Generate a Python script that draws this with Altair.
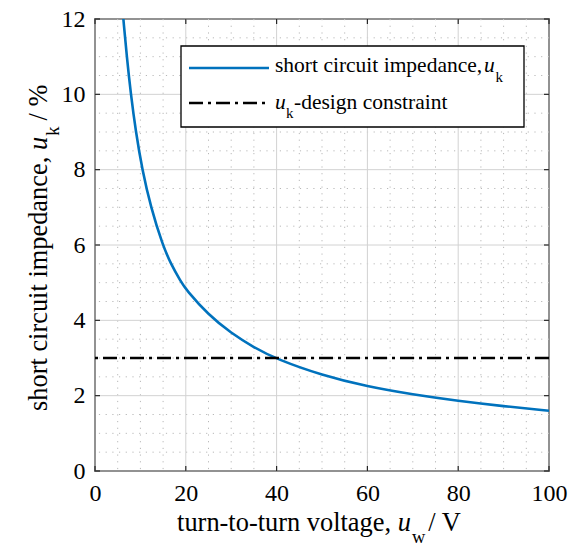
import altair as alt
import pandas as pd

# ---- data ----
uw = [6.25, 7.0, 7.9, 9.0, 10.4, 12.3, 14.9, 16.7, 18.9, 20, 25, 30, 35, 40, 50, 60, 70, 80, 90, 100]
uk = [12.0, 11.0, 10.0, 9.0, 8.0, 7.0, 6.0, 5.5, 5.03, 4.82, 4.14, 3.66, 3.28, 2.97, 2.54, 2.24, 2.03, 1.86, 1.72, 1.60]
uk_limit = [3.0]

x_major = [0, 20, 40, 60, 80, 100]
y_major = [0, 2, 4, 6, 8, 10, 12]
x_minor = [5, 10, 15, 25, 30, 35, 45, 50, 55, 65, 70, 75, 85, 90, 95]
y_minor = [0.5, 1, 1.5, 2.5, 3, 3.5, 4.5, 5, 5.5, 6.5, 7, 7.5, 8.5, 9, 9.5, 10.5, 11, 11.5]

legend_curve = "short circuit impedance,"
legend_limit = "-design constraint"
x_title = "turn-to-turn voltage, "
y_title = "short circuit impedance, "

W, H = 454, 452
FONT = "Liberation Serif"
FS_TICK = 24
FS_LAB = 26.4
FS_LEG = 21.5
SUB_LEG = 15
SUB_LAB = 18.5

xs = alt.Scale(domain=[0, 100], nice=False, zero=False)
ys = alt.Scale(domain=[0, 12], nice=False, zero=False)
xax = alt.Axis(values=x_major, title=None, labelFlush=False, labelOverlap=False)
yax = alt.Axis(values=y_major, title=None, labelFlush=False, labelOverlap=False)

curve_df = pd.DataFrame({"uw": uw, "uk": uk})
limit_df = pd.DataFrame({"uk": uk_limit})
one = pd.DataFrame({"d": [0]})


def vx(vals):
    return pd.DataFrame({"v": vals})


def text(t, x, y, size, style="normal", align="left", angle=0):
    return alt.Chart(one).mark_text(
        text=t, font=FONT, fontSize=size, fontStyle=style, align=align,
        baseline="alphabetic", angle=angle, color="black"
    ).encode(x=alt.value(x), y=alt.value(y))


layers = []
# minor grid (dotted)
layers.append(alt.Chart(vx(x_minor)).mark_rule(color="#b8b8b8", strokeWidth=1, strokeDash=[1.2, 5.5]).encode(
    x=alt.X("v:Q", scale=xs, axis=xax)))
layers.append(alt.Chart(vx(y_minor)).mark_rule(color="#b8b8b8", strokeWidth=1, strokeDash=[1.2, 5.5]).encode(
    y=alt.Y("v:Q", scale=ys, axis=yax)))
# major grid
layers.append(alt.Chart(vx(x_major)).mark_rule(color="#d2d2d2", strokeWidth=1).encode(
    x=alt.X("v:Q", scale=xs, axis=xax)))
layers.append(alt.Chart(vx(y_major)).mark_rule(color="#d2d2d2", strokeWidth=1).encode(
    y=alt.Y("v:Q", scale=ys, axis=yax)))

# curve and constraint
layers.append(alt.Chart(curve_df).mark_line(color="#0072BD", strokeWidth=2.6, interpolate="basis", clip=True).encode(
    x=alt.X("uw:Q", scale=xs, axis=xax), y=alt.Y("uk:Q", scale=ys, axis=yax)))
layers.append(alt.Chart(limit_df).mark_rule(color="black", strokeWidth=2.5, strokeDash=[14, 5, 3, 5]).encode(
    y=alt.Y("uk:Q", scale=ys, axis=yax)))

# inward ticks on all four sides
tk = dict(color="#262626", strokeWidth=1.2)
layers.append(alt.Chart(vx(x_major)).mark_rule(**tk).encode(
    x=alt.X("v:Q", scale=xs, axis=xax), y=alt.value(H), y2=alt.value(H - 5)))
layers.append(alt.Chart(vx(x_major)).mark_rule(**tk).encode(
    x=alt.X("v:Q", scale=xs, axis=xax), y=alt.value(0), y2=alt.value(5)))
layers.append(alt.Chart(vx(y_major)).mark_rule(**tk).encode(
    y=alt.Y("v:Q", scale=ys, axis=yax), x=alt.value(0), x2=alt.value(5)))
layers.append(alt.Chart(vx(y_major)).mark_rule(**tk).encode(
    y=alt.Y("v:Q", scale=ys, axis=yax), x=alt.value(W), x2=alt.value(W - 5)))

# legend
layers.append(alt.Chart(one).mark_rect(fill="white", stroke="black", strokeWidth=1.3).encode(
    x=alt.value(86), x2=alt.value(429), y=alt.value(27), y2=alt.value(108)))
layers.append(alt.Chart(one).mark_rule(color="#0072BD", strokeWidth=2.6).encode(
    x=alt.value(94), x2=alt.value(174), y=alt.value(49)))
layers.append(alt.Chart(one).mark_rule(color="black", strokeWidth=2.5, strokeDash=[14, 5, 3, 5]).encode(
    x=alt.value(94), x2=alt.value(174), y=alt.value(84)))
layers.append(text(legend_curve, 180, 53, FS_LEG))
layers.append(text("u", 389, 53, FS_LEG, style="italic"))
layers.append(text("k", 400.5, 63, SUB_LEG))
layers.append(text("u", 180, 90, FS_LEG, style="italic"))
layers.append(text("k", 191, 99, SUB_LEG))
layers.append(text(legend_limit, 199, 90, FS_LEG))

# x title (centred under plot)
w1 = 8.36 * FS_LAB
wu = 0.5 * FS_LAB
ww = 0.722 * SUB_LAB + 3
w3 = 1.5 * FS_LAB
xt0 = W / 2 - (w1 + wu + ww + w3) / 2
xb = 512
layers.append(text(x_title, xt0, xb, FS_LAB))
layers.append(text("u", xt0 + w1, xb, FS_LAB, style="italic"))
layers.append(text("w", xt0 + w1 + wu + 1, xb + 12, SUB_LAB))
layers.append(text(" / V", xt0 + w1 + wu + ww + 1, xb, FS_LAB))

# y title (rotated, centred beside plot)
h1 = 9.887 * FS_LAB
hu = 0.5 * FS_LAB
hk = 0.5 * SUB_LAB
h3 = 1.611 * FS_LAB
gap = 6
yt0 = H / 2 + (h1 + hu + hk + h3 + gap) / 2
ytx = -48
layers.append(text(y_title, ytx, yt0, FS_LAB, angle=270))
layers.append(text("u", ytx, yt0 - h1, FS_LAB, style="italic", angle=270))
layers.append(text("k", ytx + 12, yt0 - h1 - hu - 1, SUB_LAB, angle=270))
layers.append(text(" / %", ytx, yt0 - h1 - hu - hk - 1 - gap, FS_LAB, angle=270))

chart = alt.layer(*layers).properties(
    width=W, height=H,
    padding={"left": 95, "top": 19, "right": 22, "bottom": 80},
    autosize=alt.AutoSizeParams(type="none"),
).configure_view(
    stroke="#1a1a1a", strokeWidth=1.5
).configure_axis(
    labelFont=FONT, labelFontSize=FS_TICK, labelColor="black",
    ticks=False, domain=False, grid=False, labelPadding=10
)

chart.save("out.html", embed_options={"renderer": "svg", "actions": False})
